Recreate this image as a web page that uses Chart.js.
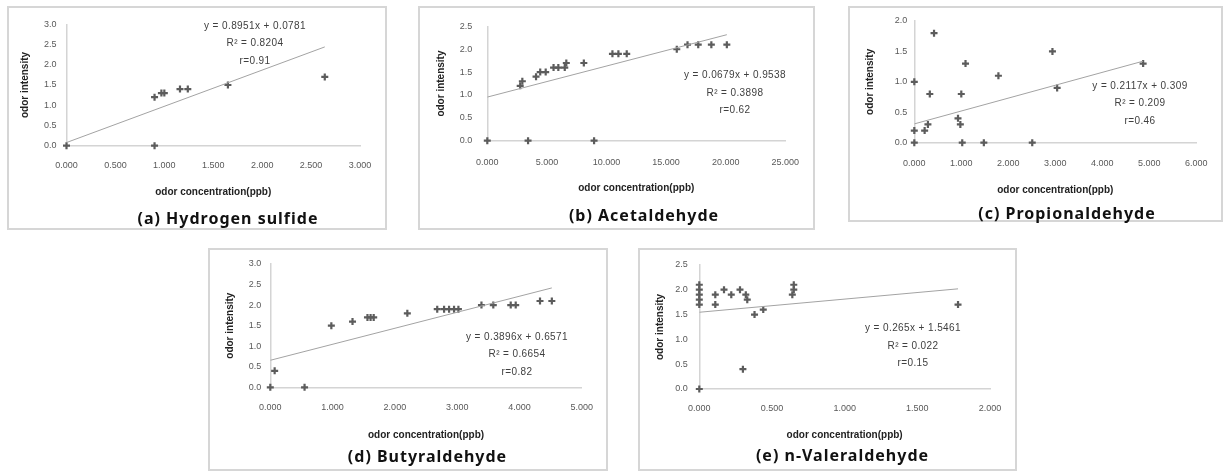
<!DOCTYPE html>
<html>
<head>
<meta charset="utf-8">
<script src="https://cdn.jsdelivr.net/npm/chart.js@4.4.0/dist/chart.umd.min.js"></script>
<style>
body { margin: 0; background: #fff; width: 1224px; height: 471px; position: relative; overflow: hidden; font-family: "Liberation Sans", sans-serif; }
.box { position: absolute; border: 2px solid #d6d6d6; box-sizing: border-box; }
.box canvas { position: absolute; left: -2px; top: -2px; }
.cap { position: absolute; transform: translate(-50%, -50%); font: bold 16px "Noto Sans", sans-serif; letter-spacing: 1px; color: #111; white-space: nowrap; }
.eq { position: absolute; transform: translate(-50%, -50%); font: 10px "Liberation Sans", sans-serif; letter-spacing: 0.4px; color: #404040; white-space: nowrap; text-align: center; line-height: 17.5px; }
</style>
</head>
<body>
<script>
// odor concentration (ppb) / odor intensity
const h2sConc = [0, 0.90, 0.90, 0.97, 1.00, 1.16, 1.24, 1.65, 2.64]
const h2sInt  = [0, 0, 1.2, 1.3, 1.3, 1.4, 1.4, 1.5, 1.7]

const acetConc = [0, 3.42, 8.96, 2.76, 2.94, 4.09, 4.44, 4.9, 5.56, 5.96, 6.5, 6.63, 8.1, 10.5, 11.0, 11.7, 15.9, 16.8, 17.7, 18.8, 20.1]
const acetInt  = [0, 0, 0, 1.2, 1.3, 1.4, 1.5, 1.5, 1.6, 1.6, 1.6, 1.7, 1.7, 1.9, 1.9, 1.9, 2.0, 2.1, 2.1, 2.1, 2.1]

const propConc = [0, 0, 0, 0.22, 0.29, 0.33, 0.42, 0.93, 0.98, 1.0, 1.02, 1.09, 1.48, 1.79, 2.51, 2.94, 3.04, 4.87]
const propInt  = [0, 0.2, 1.0, 0.2, 0.3, 0.8, 1.8, 0.4, 0.3, 0.8, 0, 1.3, 0, 1.1, 0, 1.5, 0.9, 1.3]

const butyConc = [0, 0.07, 0.55, 0.98, 1.32, 1.56, 1.61, 1.66, 2.2, 2.68, 2.79, 2.87, 2.95, 3.02, 3.39, 3.58, 3.86, 3.94, 4.33, 4.52]
const butyInt  = [0, 0.4, 0, 1.5, 1.6, 1.7, 1.7, 1.7, 1.8, 1.9, 1.9, 1.9, 1.9, 1.9, 2.0, 2.0, 2.0, 2.0, 2.1, 2.1]

const valerConc = [0, 0, 0, 0, 0, 0, 0.11, 0.11, 0.17, 0.22, 0.28, 0.32, 0.33, 0.30, 0.38, 0.44, 0.64, 0.65, 0.65, 1.78]
const valerInt  = [0, 2.1, 2.0, 1.9, 1.8, 1.7, 1.7, 1.9, 2.0, 1.9, 2.0, 1.9, 1.8, 0.4, 1.5, 1.6, 1.9, 2.0, 2.1, 1.7]

// linear trendlines (from the equations printed on each panel)
const fitSlope = [0.8951, 0.0679, 0.2117, 0.3896, 0.265]
const fitIntercept = [0.0781, 0.9538, 0.309, 0.6571, 1.5461]
const fitEnd = [2.64, 20.1, 4.87, 4.52, 1.78]

const eqLine = ['y = 0.8951x + 0.0781', 'y = 0.0679x + 0.9538', 'y = 0.2117x + 0.309', 'y = 0.3896x + 0.6571', 'y = 0.265x + 1.5461']
const eqR2 = ['R² = 0.8204', 'R² = 0.3898', 'R² = 0.209', 'R² = 0.6654', 'R² = 0.022']
const eqR = ['r=0.91', 'r=0.62', 'r=0.46', 'r=0.82', 'r=0.15']

const captions = ['(a) Hydrogen sulfide', '(b) Acetaldehyde', '(c) Propionaldehyde', '(d) Butyraldehyde', '(e) n-Valeraldehyde']
const xMaxes = [3, 25, 6, 5, 2]
const xSteps = [0.5, 5, 1, 1, 0.5]
const yMaxes = [3, 2.5, 2, 3, 2.5]

const conc = [h2sConc, acetConc, propConc, butyConc, valerConc]
const inten = [h2sInt, acetInt, propInt, butyInt, valerInt]

// page layout: box = [left, top, w, h], area = [x0, xEnd, yTop, y0] in page px
const layout = [
    { box: [7, 6, 380, 224], area: [66.5, 360, 24.3, 145.7], xPad: 14, yPad: 10, yTitleX: 25, xTitleY: 192.7, cap: [228, 218], eq: [255, 42.5] },
    { box: [418, 6, 397, 224], area: [487.3, 799, 22.7, 140.7], xPad: 16, yPad: 15, yTitleX: 441.7, xTitleY: 188.3, cap: [644, 215], eq: [735, 92.3] },
    { box: [848, 6, 375, 216], area: [914.3, 1203, 21, 142.7], xPad: 15.5, yPad: 7, yTitleX: 870.7, xTitleY: 190, cap: [1067, 213], eq: [1140, 102.7] },
    { box: [208, 248, 400, 223], area: [270.3, 589, 264, 387.3], xPad: 15, yPad: 9, yTitleX: 230, xTitleY: 435, cap: [427.5, 455.7], eq: [517, 353.5] },
    { box: [638, 248, 379, 223], area: [699.3, 990, 264.3, 389], xPad: 14, yPad: 11.5, yTitleX: 660, xTitleY: 435.7, cap: [842.5, 455], eq: [913, 345] }
]

const tickFont = { family: "Liberation Sans", size: 9 }
const titleFont = { family: "Liberation Sans", size: 10, weight: 'bold' }

layout.forEach((p, i) => {
    const [L, T, W, H] = p.box
    const box = document.createElement('div')
    box.className = 'box'
    box.style.left = L + 'px'; box.style.top = T + 'px'
    box.style.width = W + 'px'; box.style.height = H + 'px'
    const cv = document.createElement('canvas')
    cv.width = W; cv.height = H
    cv.style.width = W + 'px'; cv.style.height = H + 'px'
    box.appendChild(cv)
    document.body.appendChild(box)

    const pl = p.area[0] - L, pr = p.area[1] - L, pt = p.area[2] - T, pb = p.area[3] - T

    const points = conc[i].map((x, k) => ({ x: x, y: inten[i][k] }))
    const trend = [0, fitEnd[i]].map(x => ({ x: x, y: fitSlope[i] * x + fitIntercept[i] }))

    new Chart(cv.getContext('2d'), {
        type: 'scatter',
        data: {
            datasets: [{
                data: trend,
                showLine: true,
                borderColor: '#a3a3a3',
                borderWidth: 1,
                pointRadius: 0
            }, {
                data: points,
                clip: false,
                pointStyle: 'cross',
                pointRadius: 3.5,
                borderWidth: 2.2,
                borderColor: '#5c5c5c',
                backgroundColor: '#5c5c5c'
            }]
        },
        options: {
            responsive: false,
            animation: false,
            events: [],
            plugins: { legend: { display: false }, tooltip: { enabled: false } },
            layout: { padding: { left: 0, top: pt, right: W - pr, bottom: 0 } },
            scales: {
                x: {
                    type: 'linear', min: 0, max: xMaxes[i],
                    grid: { display: false, drawTicks: false },
                    border: { display: true, color: '#d4d4d4', width: 1.5 },
                    ticks: { stepSize: xSteps[i], padding: p.xPad, font: tickFont, color: '#595959', maxRotation: 0, autoSkip: false, callback: v => v.toFixed(3) },
                    title: { display: true, text: 'odor concentration(ppb)', font: titleFont, color: '#222', padding: { top: 0, bottom: H - (p.xTitleY - T) - 6 } },
                    afterFit: s => { s.height = H - pb }
                },
                y: {
                    type: 'linear', min: 0, max: yMaxes[i],
                    grid: { display: false, drawTicks: false },
                    border: { display: true, color: '#d4d4d4', width: 1.5 },
                    ticks: { stepSize: 0.5, padding: p.yPad, font: tickFont, color: '#595959', callback: v => v.toFixed(1) },
                    title: { display: true, text: 'odor intensity', font: titleFont, color: '#222', padding: { top: (p.yTitleX - L) - 6, bottom: 0 } },
                    afterFit: s => { s.width = pl }
                }
            }
        }
    })

    const eq = document.createElement('div')
    eq.className = 'eq'
    eq.style.left = p.eq[0] + 'px'; eq.style.top = p.eq[1] + 'px'
    eq.innerHTML = eqLine[i] + '<br>' + eqR2[i] + '<br>' + eqR[i]
    document.body.appendChild(eq)

    const cap = document.createElement('div')
    cap.className = 'cap'
    cap.style.left = p.cap[0] + 'px'; cap.style.top = p.cap[1] + 'px'
    cap.textContent = captions[i]
    document.body.appendChild(cap)
})
</script>
</body>
</html>
